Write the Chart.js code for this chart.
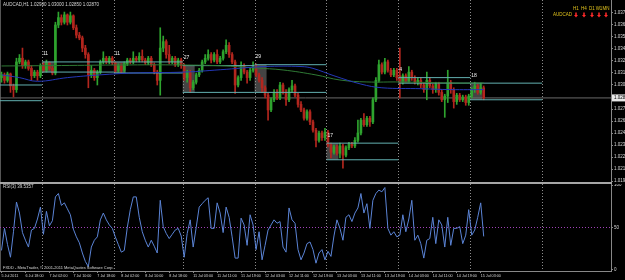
<!DOCTYPE html>
<html>
<head>
<meta charset="utf-8">
<script src="https://cdn.jsdelivr.net/npm/chart.js@4.4.0/dist/chart.umd.min.js"></script>
<style>
body{margin:0;background:#000;width:625px;height:280px;overflow:hidden;position:relative}
canvas{position:absolute;left:0}
#main{top:0}
#rsi{top:184px}
#sep{position:absolute;left:0;top:182px;width:612px;height:2px;background:#a6a6a6}
</style>
</head>
<body>
<canvas id="main" width="625" height="182"></canvas>
<div id="sep"></div>
<canvas id="rsi" width="625" height="96"></canvas>
<script>
// AUDCAD H1 candles
const openP = [
1.0309,1.0312,1.0306,1.0313,1.0300,1.0296,1.0326,1.0330,1.0322,1.0326,
1.0319,1.0311,1.0315,1.0311,1.0322,1.0317,1.0325,1.0319,1.0314,1.0366,
1.0374,1.0369,1.0377,1.0369,1.0376,1.0363,1.0355,1.0352,1.0341,1.0334,
1.0312,1.0317,1.0309,1.0315,1.0326,1.0330,1.0326,1.0330,1.0325,1.0317,
1.0322,1.0317,1.0324,1.0328,1.0326,1.0330,1.0328,1.0332,1.0328,1.0325,
1.0330,1.0323,1.0315,1.0306,1.0341,1.0348,1.0334,1.0326,1.0330,1.0323,
1.0328,1.0322,1.0309,1.0315,1.0298,1.0304,1.0312,1.0317,1.0326,1.0330,
1.0334,1.0328,1.0334,1.0326,1.0330,1.0337,1.0344,1.0334,1.0326,1.0301,
1.0309,1.0322,1.0315,1.0309,1.0317,1.0321,1.0312,1.0306,1.0298,1.0290,
1.0274,1.0285,1.0293,1.0287,1.0301,1.0293,1.0285,1.0296,1.0300,1.0290,
1.0280,1.0274,1.0265,1.0272,1.0261,1.0252,1.0241,1.0249,1.0244,1.0250,
1.0236,1.0228,1.0234,1.0227,1.0235,1.0225,1.0233,1.0237,1.0235,1.0241,
1.0249,1.0263,1.0258,1.0265,1.0261,1.0285,1.0306,1.0323,1.0315,1.0326,
1.0317,1.0312,1.0317,1.0311,1.0304,1.0311,1.0306,1.0315,1.0309,1.0304,
1.0306,1.0301,1.0296,1.0306,1.0300,1.0296,1.0302,1.0293,1.0285,1.0289,
1.0304,1.0296,1.0283,1.0290,1.0285,1.0288,1.0282,1.0289,1.0296,1.0300,
1.0293,1.0298];
const highP = [
1.0315,1.0314,1.0315,1.0314,1.0302,1.0330,1.0334,1.0341,1.0328,1.0328,
1.0322,1.0317,1.0317,1.0324,1.0326,1.0328,1.0326,1.0322,1.0369,1.0380,
1.0377,1.0380,1.0378,1.0380,1.0377,1.0366,1.0358,1.0354,1.0344,1.0336,
1.0322,1.0319,1.0317,1.0328,1.0337,1.0332,1.0332,1.0332,1.0326,1.0324,
1.0324,1.0326,1.0330,1.0330,1.0337,1.0332,1.0336,1.0339,1.0330,1.0332,
1.0332,1.0325,1.0317,1.0363,1.0354,1.0350,1.0344,1.0332,1.0332,1.0330,
1.0330,1.0324,1.0317,1.0317,1.0306,1.0314,1.0319,1.0328,1.0334,1.0339,
1.0336,1.0336,1.0339,1.0332,1.0339,1.0350,1.0347,1.0336,1.0328,1.0311,
1.0326,1.0324,1.0317,1.0319,1.0326,1.0324,1.0314,1.0309,1.0300,1.0292,
1.0287,1.0296,1.0296,1.0304,1.0303,1.0296,1.0298,1.0306,1.0302,1.0292,
1.0283,1.0276,1.0274,1.0274,1.0263,1.0254,1.0251,1.0251,1.0254,1.0252,
1.0238,1.0236,1.0236,1.0238,1.0237,1.0235,1.0239,1.0239,1.0244,1.0263,
1.0265,1.0270,1.0267,1.0267,1.0287,1.0309,1.0328,1.0325,1.0330,1.0328,
1.0319,1.0319,1.0319,1.0341,1.0313,1.0313,1.0321,1.0317,1.0311,1.0309,
1.0309,1.0303,1.0315,1.0309,1.0302,1.0304,1.0304,1.0296,1.0291,1.0317,
1.0306,1.0298,1.0292,1.0292,1.0290,1.0290,1.0291,1.0298,1.0304,1.0302,
1.0303,1.0300];
const lowP = [
1.0304,1.0303,1.0304,1.0293,1.0288,1.0293,1.0324,1.0319,1.0319,1.0317,
1.0306,1.0309,1.0306,1.0309,1.0315,1.0315,1.0317,1.0312,1.0312,1.0363,
1.0366,1.0367,1.0366,1.0367,1.0361,1.0352,1.0350,1.0337,1.0330,1.0298,
1.0309,1.0306,1.0301,1.0313,1.0324,1.0324,1.0324,1.0323,1.0315,1.0315,
1.0314,1.0315,1.0322,1.0324,1.0324,1.0326,1.0326,1.0326,1.0323,1.0323,
1.0321,1.0313,1.0301,1.0290,1.0337,1.0330,1.0324,1.0324,1.0321,1.0321,
1.0319,1.0306,1.0304,1.0293,1.0296,1.0302,1.0310,1.0315,1.0324,1.0328,
1.0325,1.0326,1.0324,1.0324,1.0328,1.0335,1.0331,1.0324,1.0292,1.0299,
1.0306,1.0313,1.0303,1.0306,1.0315,1.0310,1.0304,1.0293,1.0287,1.0263,
1.0272,1.0283,1.0285,1.0285,1.0291,1.0279,1.0283,1.0293,1.0288,1.0277,
1.0272,1.0263,1.0263,1.0258,1.0250,1.0234,1.0239,1.0241,1.0241,1.0234,
1.0222,1.0226,1.0225,1.0222,1.0211,1.0223,1.0231,1.0233,1.0233,1.0239,
1.0247,1.0256,1.0256,1.0256,1.0259,1.0283,1.0304,1.0313,1.0313,1.0315,
1.0310,1.0310,1.0306,1.0287,1.0302,1.0304,1.0304,1.0306,1.0302,1.0301,
1.0298,1.0293,1.0285,1.0298,1.0292,1.0293,1.0290,1.0283,1.0266,1.0282,
1.0292,1.0276,1.0280,1.0283,1.0283,1.0279,1.0279,1.0287,1.0293,1.0291,
1.0291,1.0285];
const closeP = [
1.0312,1.0306,1.0313,1.0300,1.0296,1.0326,1.0330,1.0322,1.0326,1.0319,
1.0311,1.0315,1.0311,1.0322,1.0317,1.0325,1.0319,1.0314,1.0366,1.0374,
1.0369,1.0377,1.0369,1.0376,1.0363,1.0355,1.0352,1.0341,1.0334,1.0312,
1.0317,1.0309,1.0315,1.0326,1.0330,1.0326,1.0330,1.0325,1.0317,1.0322,
1.0317,1.0324,1.0328,1.0326,1.0330,1.0328,1.0332,1.0328,1.0325,1.0330,
1.0323,1.0315,1.0306,1.0341,1.0348,1.0334,1.0326,1.0330,1.0323,1.0328,
1.0322,1.0309,1.0315,1.0298,1.0304,1.0312,1.0317,1.0326,1.0330,1.0334,
1.0328,1.0334,1.0326,1.0330,1.0337,1.0344,1.0334,1.0326,1.0301,1.0309,
1.0322,1.0315,1.0309,1.0317,1.0321,1.0312,1.0306,1.0298,1.0290,1.0274,
1.0285,1.0293,1.0287,1.0301,1.0293,1.0285,1.0296,1.0300,1.0290,1.0280,
1.0274,1.0265,1.0272,1.0261,1.0252,1.0241,1.0249,1.0244,1.0250,1.0236,
1.0228,1.0234,1.0227,1.0235,1.0225,1.0233,1.0237,1.0235,1.0241,1.0249,
1.0263,1.0258,1.0265,1.0261,1.0285,1.0306,1.0323,1.0315,1.0326,1.0317,
1.0312,1.0317,1.0309,1.0304,1.0311,1.0306,1.0315,1.0309,1.0304,1.0306,
1.0301,1.0296,1.0306,1.0300,1.0296,1.0302,1.0293,1.0285,1.0289,1.0304,
1.0296,1.0283,1.0290,1.0285,1.0288,1.0282,1.0289,1.0296,1.0300,1.0293,
1.0298,1.0287];

// RSI(3)
const rsiVals = [
23,49,30,15,45,80,67,44,35,27,
47,49,60,74,42,69,52,58,86,90,
76,79,72,65,48,39,32,20,10,4,
27,35,39,59,67,59,53,49,39,30,
21,23,50,71,86,86,62,45,35,27,
35,28,20,82,51,43,37,42,47,49,
40,15,43,59,27,50,74,78,82,85,
49,49,79,67,44,74,62,39,14,14,
61,53,29,65,53,24,45,12,29,47,
53,59,55,57,27,21,73,59,55,24,
12,20,31,33,24,8,20,24,12,22,
16,40,59,49,35,62,65,57,67,73,
90,67,78,49,82,90,94,92,97,49,
41,45,39,41,65,45,60,82,35,41,
31,14,35,37,62,31,59,53,27,62,
29,49,49,51,31,41,71,41,47,62,
79,39.5357];

// moving averages (sampled at these bars)
const maBlueBars = [0,6,12,22,33,44,61,75,88,100,104,111,120,127,140,150,161];
const maBlue = [1.0312,1.0309,1.0305,1.0309,1.0312,1.0314,1.0315,1.0318,1.0321,1.0321,1.0319,1.0311,1.0302,1.0298,1.0297,1.0296,1.0296];
const maGreenBars = [0,20,40,60,75,85,94,105,113,122,133,150,161];
const maGreen = [1.03216,1.03221,1.03227,1.03227,1.03216,1.03194,1.03173,1.03119,1.03064,1.03043,1.03043,1.03032,1.03032];

// session range boxes
const boxStart = [-10,14,38,61,85,109,133,157];
const boxEnd = [13,37,60,84,108,132,156,180];
const boxHigh = [1.0301,1.0326,1.0326,1.0322,1.0323,1.0238,1.0309,1.0303];
const boxLow = [1.0284,1.0315,1.0314,1.0293,1.0293,1.0220,1.0303,1.0285];
const boxPips = ['','11','11','27','29','17','4','18'];

// axes
const priceTicks = [1.0379,1.0366,1.0353,1.0340,1.0327,1.0314,1.0301,1.0275,1.0262,1.0249,1.0236,1.0223,1.0210,1.0197];
const rsiTicks = [0,50,100];
const daySepBars = [14,38,61,85,109,133,157,181];
const tickBars = [0,8,16,24,32,40,48,56,64,72,80,88,96,104,112,120,128,136,144,152,160];
const timeLabels = ['5 Jul 2011','6 Jul 18:00','7 Jul 02:00','7 Jul 10:00','7 Jul 18:00','8 Jul 02:00','8 Jul 10:00','8 Jul 18:00',
 '11 Jul 03:00','11 Jul 11:00','11 Jul 19:00','12 Jul 03:00','12 Jul 11:00','12 Jul 19:00','13 Jul 03:00','13 Jul 11:00',
 '13 Jul 19:00','14 Jul 03:00','14 Jul 11:00','14 Jul 19:00','15 Jul 03:00'];
const timeframes = ['H1','H4','D1','W1','MN'];

const bull = '#2ea32e', bear = '#b3261e';
const txt = '#d8d8d8';
const FONT = '4.5px "Liberation Sans"';
Chart.defaults.font.family = 'Liberation Sans';

const last = closeP.length - 1;
const isUp = openP.map((o, i) => closeP[i] >= o);
const candleColors = isUp.map(u => u ? bull : bear);

function seg(x0, x1, y, color, order, dash) {
    return {type: 'line', data: [{x: x0, y: y}, {x: x1, y: y}], borderColor: color, borderWidth: 1,
        borderDash: dash || [], pointRadius: 0, order: order};
}

const daySep = {
    id: 'daySep',
    beforeDatasetsDraw(chart) {
        const {ctx, chartArea: a, scales: {x}} = chart;
        ctx.save();
        ctx.strokeStyle = '#8c8c8c';
        ctx.lineWidth = 1;
        ctx.setLineDash([1, 2]);
        daySepBars.forEach(b => {
            const px = Math.round(x.getPixelForValue(b - 0.5)) + 0.5;
            ctx.beginPath(); ctx.moveTo(px, a.top); ctx.lineTo(px, a.bottom); ctx.stroke();
        });
        // left frame
        ctx.setLineDash([]);
        ctx.strokeStyle = '#555';
        ctx.beginPath(); ctx.moveTo(0.5, a.top); ctx.lineTo(0.5, a.bottom); ctx.stroke();
        ctx.restore();
    }
};

const boxFill = {
    id: 'boxFill',
    beforeDatasetsDraw(chart) {
        const {ctx, scales: {x, y}} = chart;
        ctx.save();
        ctx.fillStyle = 'rgba(150,150,150,0.45)';
        boxStart.forEach((s, k) => {
            if (s < 0) return;
            const x0 = x.getPixelForValue(s - 0.5), x1 = x.getPixelForValue(s + 3.5);
            const y0 = y.getPixelForValue(boxHigh[k]), y1 = y.getPixelForValue(boxLow[k]);
            ctx.fillRect(x0, y0, x1 - x0, y1 - y0);
        });
        ctx.restore();
    }
};

const mainText = {
    id: 'mainText',
    afterDraw(chart) {
        const {ctx, scales: {x, y}} = chart;
        ctx.save();
        ctx.font = FONT;
        ctx.textBaseline = 'middle';
        ctx.fillStyle = txt;
        ctx.fillText('AUDCAD,H1 ' + [openP[last], highP[last], lowP[last], closeP[last]].map(v => v.toFixed(5)).join(' '), 3, 5);
        ctx.font = '5px "Liberation Sans"';
        ctx.fillStyle = '#f0f0f0';
        boxPips.forEach((t, k) => {
            if (!t) return;
            ctx.fillText(t, x.getPixelForValue(boxStart[k] - 0.5) + 1, y.getPixelForValue(boxHigh[k]) - 8);
        });
        ctx.font = FONT;
        // timeframe panel
        ctx.fillStyle = '#e0c21c';
        ctx.textAlign = 'center';
        const cx = [576, 584, 592, 599, 606];
        timeframes.forEach((t, k) => ctx.fillText(t, cx[k], 9));
        ctx.textAlign = 'right';
        ctx.fillText('AUDCAD', 572, 15);
        ctx.fillStyle = '#ff2a2a';
        cx.forEach(c => {
            ctx.fillRect(c - 0.75, 12.5, 1.5, 2.5);
            ctx.beginPath(); ctx.moveTo(c - 2, 15); ctx.lineTo(c + 2, 15); ctx.lineTo(c, 17.5); ctx.closePath(); ctx.fill();
        });
        // current price label
        const py = y.getPixelForValue(closeP[last]);
        ctx.fillStyle = '#e8e8e8';
        ctx.fillRect(612, py - 3.5, 13, 7);
        ctx.fillStyle = '#000';
        ctx.textAlign = 'left';
        ctx.fillText(closeP[last].toFixed(5), 614, py);
        ctx.restore();
    }
};

const rsiText = {
    id: 'rsiText',
    afterDraw(chart) {
        const {ctx} = chart;
        ctx.save();
        ctx.font = FONT;
        ctx.textBaseline = 'middle';
        ctx.fillStyle = txt;
        ctx.fillText('RSI(3) ' + rsiVals[last].toFixed(4), 3, 3);
        ctx.font = '4px "Liberation Sans"';
        ctx.fillText('FXDD - MetaTrader, \u00a9 2001-2011 MetaQuotes Software Corp.', 3, 84);
        ctx.restore();
    }
};

function fixAxis(width, height) {
    return function (scale) {
        if (width) scale.width = width;
        if (height) scale.height = height;
        scale.paddingTop = 0; scale.paddingBottom = 0;
        scale.paddingLeft = 0; scale.paddingRight = 0;
    };
}

const xAxisBase = {type: 'linear', min: -0.5, max: 203.5, offset: false};
const axisTicks = {color: txt, font: {size: 4.5}, padding: 1};

// main price panel
const mainSets = [
    {type: 'bar', data: openP.map((o, i) => ({x: i, y: [o, closeP[i]]})), backgroundColor: candleColors,
        barThickness: 2, minBarLength: 1, grouped: false, order: 5},
    {type: 'bar', data: openP.map((o, i) => ({x: i, y: [lowP[i], highP[i]]})), backgroundColor: candleColors,
        barThickness: 1, grouped: false, order: 6},
    seg(-0.5, 203.5, closeP[last], '#6a6a6a', 7),
    {type: 'line', data: maBlueBars.map((b, k) => ({x: b, y: maBlue[k]})), borderColor: '#2438b8', borderWidth: 1,
        pointRadius: 0, tension: 0.4, order: 2},
    {type: 'line', data: maGreenBars.map((b, k) => ({x: b, y: maGreen[k]})), borderColor: '#2f7a35', borderWidth: 1,
        pointRadius: 0, tension: 0.4, order: 2}
];
boxStart.forEach((s, k) => {
    mainSets.push(seg(s - 0.5, boxEnd[k] + 0.5, boxHigh[k], '#62b0b0', 3));
    mainSets.push(seg(s - 0.5, boxEnd[k] + 0.5, boxLow[k], '#62b0b0', 3));
});

new Chart(document.getElementById('main'), {
    type: 'bar',
    data: {datasets: mainSets},
    options: {
        responsive: false, animation: false, devicePixelRatio: 1,
        layout: {padding: 0},
        plugins: {legend: {display: false}, tooltip: {enabled: false}},
        scales: {
            x: Object.assign({display: false, grid: {offset: false}}, xAxisBase),
            y: {
                position: 'right', min: 1.019592, max: 1.039308,
                afterBuildTicks: s => { s.ticks = priceTicks.map(v => ({value: v})); },
                afterFit: fixAxis(14, 0),
                ticks: Object.assign({callback: v => v.toFixed(5)}, axisTicks),
                grid: {drawOnChartArea: false, tickLength: 2, color: '#888'},
                border: {color: '#888'}
            }
        }
    },
    plugins: [daySep, boxFill, mainText]
});

// RSI panel
new Chart(document.getElementById('rsi'), {
    type: 'line',
    data: {datasets: [
        {data: rsiVals.map((v, i) => ({x: i, y: v})), borderColor: '#5b84d6', borderWidth: 1, pointRadius: 0, order: 1},
        seg(-0.5, 203.5, 50, '#a040b8', 2, [1, 2])
    ]},
    options: {
        responsive: false, animation: false, devicePixelRatio: 1,
        layout: {padding: 0},
        plugins: {legend: {display: false}, tooltip: {enabled: false}},
        scales: {
            x: Object.assign({
                afterBuildTicks: s => { s.ticks = tickBars.map(v => ({value: v})); },
                afterFit: fixAxis(0, 9),
                ticks: {callback: (v, i) => timeLabels[i], align: 'start', autoSkip: false, maxRotation: 0, minRotation: 0,
                    color: txt, font: {size: 3.7}, padding: 1},
                grid: {drawOnChartArea: false, tickLength: 2, color: '#888'},
                border: {color: '#888'}
            }, xAxisBase),
            y: {
                position: 'right', min: -1.18, max: 101.18,
                afterBuildTicks: s => { s.ticks = rsiTicks.map(v => ({value: v})); },
                afterFit: fixAxis(14, 0),
                ticks: Object.assign({callback: v => String(v)}, axisTicks),
                grid: {drawOnChartArea: false, tickLength: 2, color: '#888'},
                border: {color: '#888'}
            }
        }
    },
    plugins: [daySep, rsiText]
});
</script>
</body>
</html>
